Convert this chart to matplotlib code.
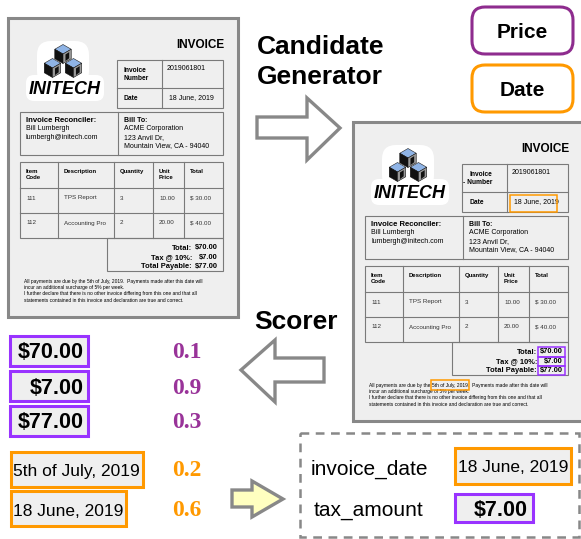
import matplotlib.pyplot as plt
from matplotlib.patches import Rectangle, FancyBboxPatch, Polygon

plt.rcParams['font.family'] = ['Liberation Sans', 'DejaVu Sans']

# candidates found by the generator and the scores given to them
price_candidates = ["$70.00", "$7.00", "$77.00"]
price_scores = [0.1, 0.9, 0.3]
date_candidates = ["5th of July, 2019", "18 June, 2019"]
date_scores = [0.2, 0.6]

entity_types = ["Price", "Date"]
output_fields = ["invoice_date", "tax_amount"]
output_values = ["18 June, 2019", "$7.00"]

# invoice contents
invoice_number = "2019061801"
invoice_date = "18 June, 2019"
reconciler = ["Bill Lumbergh", "lumbergh@initech.com"]
bill_to = ["ACME Corporation", "123 Anvil Dr,", "Mountain View, CA - 94040"]
item_headers = ["Item\nCode", "Description", "Quantity", "Unit\nPrice", "Total"]
item_rows = [["111", "TPS Report", "3", "10.00", "$ 30.00"],
             ["112", "Accounting Pro", "2", "20.00", "$ 40.00"]]
total_labels = ["Total:", "Tax @ 10%:", "Total Payable:"]
total_values = ["$70.00", "$7.00", "$77.00"]
footer_pre = "All payments are due by the "
footer_date = "5th of July, 2019"
footer_post = ".  Payments made after this date will"
footer_rest = ["incur an additional surcharge of 5% per week.",
               "I further declare that there is no other invoice differing from this one and that all",
               "statements contained in this invoice and declaration are true and correct."]

PURPLE = '#9933ff'
PURPLE_DARK = '#8e2c8e'
SCORE_PURPLE = '#993399'
ORANGE = '#ff9900'
GRAY = '#888888'
PAPER = '#efefef'
LINE = '#7a7a7a'

fig = plt.figure(figsize=(5.81, 5.39), dpi=100)
ax = fig.add_axes([0, 0, 1, 1])
ax.set_xlim(0, 581)
ax.set_ylim(539, 0)
ax.axis('off')
renderer = fig.canvas.get_renderer()


def box(x0, y0, x1, y1, **kw):
    p = Rectangle((x0, y0), x1 - x0, y1 - y0, **kw)
    ax.add_patch(p)
    return p


def width_of(t):
    return t.get_window_extent(renderer=renderer).width


def cube(cx, cy, a):
    h = 0.866 * a
    top = [(cx, cy - a), (cx + h, cy - a / 2), (cx, cy), (cx - h, cy - a / 2)]
    left = [(cx - h, cy - a / 2), (cx, cy), (cx, cy + a), (cx - h, cy + a / 2)]
    right = [(cx, cy), (cx + h, cy - a / 2), (cx + h, cy + a / 2), (cx, cy + a)]
    ax.add_patch(Polygon(top, closed=True, fc='#8fb4e6', ec='#222', lw=0.4, zorder=4))
    ax.add_patch(Polygon(left, closed=True, fc='#111', ec='#111', lw=0.4, zorder=4))
    ax.add_patch(Polygon(right, closed=True, fc='#9a9a9a', ec='#111', lw=0.4, zorder=4))
    ax.add_patch(Polygon([(cx + h * 0.3, cy + a * 0.05), (cx + h * 0.75, cy - a * 0.2),
                          (cx + h * 0.75, cy + a * 0.45), (cx + h * 0.3, cy + a * 0.75)],
                         closed=True, fc='#111', lw=0, zorder=4))


def draw_invoice(ox, oy, marked=False):
    X = lambda v: ox + v
    Y = lambda v: oy + v
    box(X(0), Y(0), X(230), Y(299), fc=PAPER, ec=GRAY, lw=2.2, zorder=1)
    ax.text(X(216), Y(27), "INVOICE", ha='right', va='center', fontsize=8.5,
            fontweight='bold', zorder=3)

    # logo
    ax.add_patch(FancyBboxPatch((X(21), Y(60)), 72, 20, boxstyle='round,pad=3,rounding_size=8',
                                fc='white', ec='none', zorder=2))
    ax.add_patch(FancyBboxPatch((X(32), Y(26)), 46, 38, boxstyle='round,pad=3,rounding_size=14',
                                fc='white', ec='none', zorder=2))
    cube(X(55), Y(36), 9.5)
    cube(X(44.5), Y(50), 9.5)
    cube(X(65.5), Y(50), 9.5)
    ax.text(X(57), Y(71), "INITECH", ha='center', va='center', fontsize=13,
            fontweight='bold', fontstyle='italic', zorder=5)

    kw = dict(fc='none', ec=LINE, lw=0.8, zorder=2)
    # number / date table
    box(X(109), Y(42), X(215), Y(90), **kw)
    ax.plot([X(154), X(154)], [Y(42), Y(90)], color=LINE, lw=0.8, zorder=2)
    ax.plot([X(109), X(215)], [Y(70), Y(70)], color=LINE, lw=0.8, zorder=2)
    ax.text(X(116), Y(52), "Invoice", va='center', fontsize=4.8, fontweight='bold', zorder=3)
    ax.text(X(110) if marked else X(116), Y(60), "- Number" if marked else "Number",
            va='center', fontsize=4.8, fontweight='bold', zorder=3)
    ax.text(X(159), Y(51), invoice_number, va='center', fontsize=5, zorder=3)
    ax.text(X(116), Y(80), "Date", va='center', fontsize=4.8, fontweight='bold', zorder=3)
    ax.text(X(161), Y(80), invoice_date, va='center', fontsize=5, zorder=3)
    if marked:
        box(X(157), Y(73), X(204), Y(90), fc='none', ec=ORANGE, lw=1.1, zorder=4)

    # reconciler / bill to
    box(X(12), Y(94), X(215), Y(137), **kw)
    ax.plot([X(110), X(110)], [Y(94), Y(137)], color=LINE, lw=0.8, zorder=2)
    ax.text(X(18), Y(103), "Invoice Reconciler:", va='center', fontsize=5.6,
            fontweight='bold', zorder=3)
    for i, s in enumerate(reconciler):
        ax.text(X(18), Y(111 + 8.5 * i), s, va='center', fontsize=5, zorder=3)
    ax.text(X(116), Y(103), "Bill To:", va='center', fontsize=5, fontweight='bold', zorder=3)
    for i, s in enumerate(bill_to):
        ax.text(X(116), Y(111 + 8.5 * i), s, va='center', fontsize=5, zorder=3)

    # items table
    col_x = [12, 50, 106, 145, 176, 215]
    row_y = [144, 170, 195, 220]
    box(X(12), Y(144), X(215), Y(220), **kw)
    for c in col_x[1:-1]:
        ax.plot([X(c), X(c)], [Y(144), Y(220)], color=LINE, lw=0.8, zorder=2)
    for r in row_y[1:-1]:
        ax.plot([X(12), X(215)], [Y(r), Y(r)], color=LINE, lw=0.8, zorder=2)
    for j, h in enumerate(item_headers):
        ax.text(X(col_x[j] + 6), Y(151), h, va='top', fontsize=4.3, fontweight='bold',
                linespacing=1.15, zorder=3)
    for i, row in enumerate(item_rows):
        for j, v in enumerate(row):
            ax.text(X(col_x[j] + 6), Y(180 + 25 * i), v, va='center', fontsize=4.5,
                    color='#333', zorder=3)

    # totals
    box(X(99), Y(220), X(215), Y(253), **kw)
    for i, (lab, val) in enumerate(zip(total_labels, total_values)):
        y = 230 + 9.3 * i
        ax.text(X(184), Y(y), lab, ha='right', va='center', fontsize=5.4,
                fontweight='bold', zorder=3)
        ax.text(X(210), Y(y), val, ha='right', va='center', fontsize=5.4,
                fontweight='bold', zorder=3)
        if marked:
            box(X(185), Y(y - 4.8), X(212), Y(y + 4.6), fc='none', ec=PURPLE, lw=1.1, zorder=4)

    # footer
    fs = 3.5
    t = ax.text(X(16), Y(263), footer_pre, va='center', fontsize=fs, zorder=3)
    x1 = 16 + width_of(t)
    t2 = ax.text(X(x1), Y(263), footer_date, va='center', fontsize=fs, zorder=3)
    x2 = x1 + width_of(t2)
    ax.text(X(x2), Y(263), footer_post, va='center', fontsize=fs, zorder=3)
    if marked:
        box(X(x1 - 1), Y(258), X(x2 + 1), Y(268), fc='none', ec=ORANGE, lw=1.1, zorder=4)
    for i, s in enumerate(footer_rest):
        ax.text(X(16), Y(269 + 6.5 * i), s, va='center', fontsize=fs, zorder=3)


draw_invoice(8, 18)
draw_invoice(353, 122, marked=True)

# entity type tags
tag_colors = [PURPLE_DARK, ORANGE]
for i, (lab, col) in enumerate(zip(entity_types, tag_colors)):
    y0 = 7 + 58 * i
    ax.add_patch(FancyBboxPatch((478, y0 + 6), 89, 35, boxstyle='round,pad=6,rounding_size=13',
                                fc='white', ec=col, lw=2.2, zorder=2))
    ax.text(522, y0 + 25.5, lab, ha='center', va='center', fontsize=15, fontweight='bold')

ax.text(257, 62, "Candidate\nGenerator", ha='left', va='center', fontsize=19,
        fontweight='bold', linespacing=1.35)
ax.text(296, 322, "Scorer", ha='center', va='center', fontsize=19, fontweight='bold')

# arrows
right_arrow = [(257, 117), (307, 117), (307, 98), (340, 128), (307, 160), (307, 138), (257, 138)]
left_arrow = [(324, 358), (275, 358), (275, 340), (241, 370), (275, 402), (275, 382), (324, 382)]
yellow_arrow = [(232, 490), (252, 490), (252, 481), (283, 499), (252, 517), (252, 507), (232, 507)]
ax.add_patch(Polygon(right_arrow, closed=True, fc='white', ec=GRAY, lw=2.4, joinstyle='miter'))
ax.add_patch(Polygon(left_arrow, closed=True, fc='white', ec=GRAY, lw=2.4, joinstyle='miter'))
ax.add_patch(Polygon(yellow_arrow, closed=True, fc='#ffffc0', ec=GRAY, lw=2.4, joinstyle='miter'))

# scored candidates
for i, (s, sc) in enumerate(zip(price_candidates, price_scores)):
    yc = 351 + 35 * i
    box(10, yc - 15, 88, yc + 15, fc=PAPER, ec=PURPLE, lw=2.2)
    ax.text(84, yc + 2, s, ha='right', va='center', fontsize=15.5, fontweight='bold')
    ax.text(187, yc + 2, f"{sc:.1f}", ha='center', va='center', fontsize=17,
            fontweight='bold', color=SCORE_PURPLE, family='Liberation Serif')

date_box_w = [133, 116]
for i, (s, sc) in enumerate(zip(date_candidates, date_scores)):
    yc = 469 + 39.5 * i
    box(11, yc - 17.5, 10 + date_box_w[i], yc + 17.5, fc=PAPER, ec=ORANGE, lw=2.2)
    ax.text(13, yc + 2.5, s, ha='left', va='center', fontsize=12.5)
    ax.text(187, yc + 2, f"{sc:.1f}", ha='center', va='center', fontsize=17,
            fontweight='bold', color=ORANGE, family='Liberation Serif')

# final extraction
ax.add_patch(Rectangle((300, 433), 279, 104, fc='none', ec=GRAY, lw=1.8,
                       linestyle=(0, (3.5, 2.6))))
ax.text(369, 469, output_fields[0], ha='center', va='center', fontsize=15)
ax.text(369, 510, output_fields[1], ha='center', va='center', fontsize=15)
box(455, 448, 571, 484, fc=PAPER, ec=ORANGE, lw=2.2)
ax.text(513, 468, output_values[0], ha='center', va='center', fontsize=12.5)
box(455, 494, 533, 522, fc=PAPER, ec=PURPLE, lw=2.2)
ax.text(528, 510, output_values[1], ha='right', va='center', fontsize=15.5, fontweight='bold')

fig.savefig('out.png', dpi=100)
